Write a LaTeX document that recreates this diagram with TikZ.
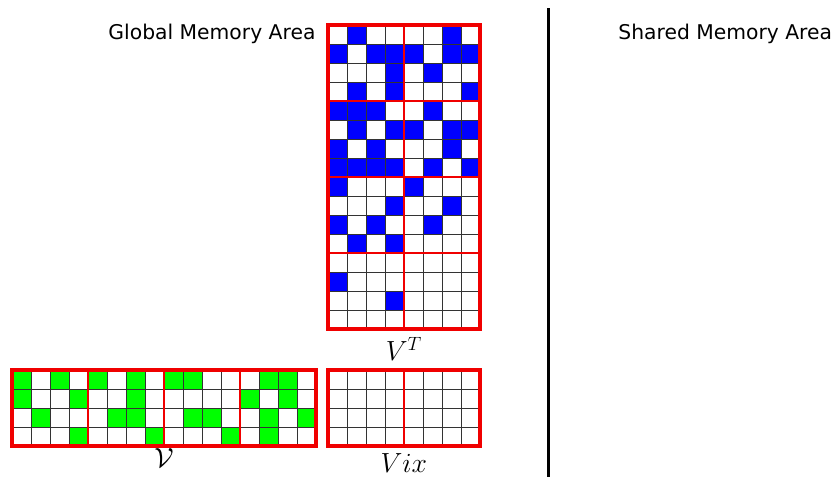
\documentclass[tikz,border=0pt]{standalone}
\usepackage{fontspec}
\setsansfont{DejaVu Sans}
\usepackage{amsmath}
\usetikzlibrary{positioning}
\definecolor{cellblue}{HTML}{0000FF}
\definecolor{cellgreen}{HTML}{00FF00}
\definecolor{blockred}{HTML}{F00000}

\begin{document}
\begin{tikzpicture}[x=0.5cm,y=0.5cm,
    cellline/.style={draw=black!80,line width=0.6pt},
    blockline/.style={draw=blockred,line width=1.3pt},
    outline/.style={draw=blockred,line width=2.4pt},
    title/.style={font=\sffamily\fontsize{15.2}{18}\selectfont},
    matlabel/.style={font=\fontsize{20}{23}\selectfont,inner sep=0pt}]
  \useasboundingbox (0,0) rectangle (44.105,25.105);

  % V^T in global memory (16 rows x 8 columns)
  \begin{scope}[shift={(17.26,7.79)}]
    \foreach \row [count=\r from 0] in {
        {0,1,0,0,0,0,1,0},{1,0,1,1,1,0,1,1},{0,0,0,1,0,1,0,0},{0,1,0,1,0,0,0,1},
        {1,1,1,0,0,1,0,0},{0,1,0,1,1,0,1,1},{1,0,1,0,0,0,1,0},{1,1,1,1,0,1,0,1},
        {1,0,0,0,1,0,0,0},{0,0,0,1,0,0,1,0},{1,0,1,0,0,1,0,0},{0,1,0,1,0,0,0,0},
        {0,0,0,0,0,0,0,0},{1,0,0,0,0,0,0,0},{0,0,0,1,0,0,0,0},{0,0,0,0,0,0,0,0}} {
      \foreach \v [count=\c from 0] in \row {
        \ifnum\v=1 \fill[cellblue] (\c,15-\r) rectangle ++(1,1); \fi
      }
    }
    \foreach \i in {0,...,8} \draw[cellline] (\i,0) -- (\i,16);
    \foreach \j in {0,...,16} \draw[cellline] (0,\j) -- (8,\j);
    \draw[blockline] (4,0) -- (4,16);
    \foreach \j in {4,8,12} \draw[blockline] (0,\j) -- (8,\j);
    \draw[outline] (0,0) rectangle (8,16);
  \end{scope}

  % V in global memory (4 rows x 16 columns)
  \begin{scope}[shift={(0.632,1.631)}]
    \foreach \row [count=\r from 0] in {
        {1,0,1,0,1,0,1,0,1,1,0,0,0,1,1,0},{1,0,0,1,0,0,1,0,0,0,0,0,1,0,1,0},
        {0,1,0,0,0,1,1,0,0,1,1,0,0,1,0,1},{0,0,0,1,0,0,0,1,0,0,0,1,0,1,0,0}} {
      \foreach \v [count=\c from 0] in \row {
        \ifnum\v=1 \fill[cellgreen] (\c,3-\r) rectangle ++(1,1); \fi
      }
    }
    \foreach \i in {0,...,16} \draw[cellline] (\i,0) -- (\i,4);
    \foreach \j in {0,...,4} \draw[cellline] (0,\j) -- (16,\j);
    \foreach \i in {4,8,12} \draw[blockline] (\i,0) -- (\i,4);
    \draw[outline] (0,0) rectangle (16,4);
  \end{scope}

  % Vix (4 rows x 8 columns, empty)
  \begin{scope}[shift={(17.26,1.631)}]
    \foreach \i in {0,...,8} \draw[cellline] (\i,0) -- (\i,4);
    \foreach \j in {0,...,4} \draw[cellline] (0,\j) -- (8,\j);
    \draw[blockline] (4,0) -- (4,4);
    \draw[outline] (0,0) rectangle (8,4);
  \end{scope}

  % labels
  \node[title, anchor=base east] (gma) at (16.85,23.0) {Global Memory Area};
  \node[title, anchor=base west] (sma) at (32.3,23.0) {Shared Memory Area};
  \node[matlabel, anchor=base] (vtlab) at (21.26,6.15) {$V^T$};
  \node[matlabel, anchor=base] (vlab) at (8.63,0.5) {$\mathcal{V}$};
  \node[matlabel, anchor=base] (vixlab) at (21.26,0.22) {$Vix$};

  % divider between the two memory areas
  \coordinate (divtop) at (28.89,24.68);
  \coordinate (divbot) at (28.89,0);
  \draw[line width=2.2pt] (divtop) -- (divbot);
\end{tikzpicture}
\end{document}
